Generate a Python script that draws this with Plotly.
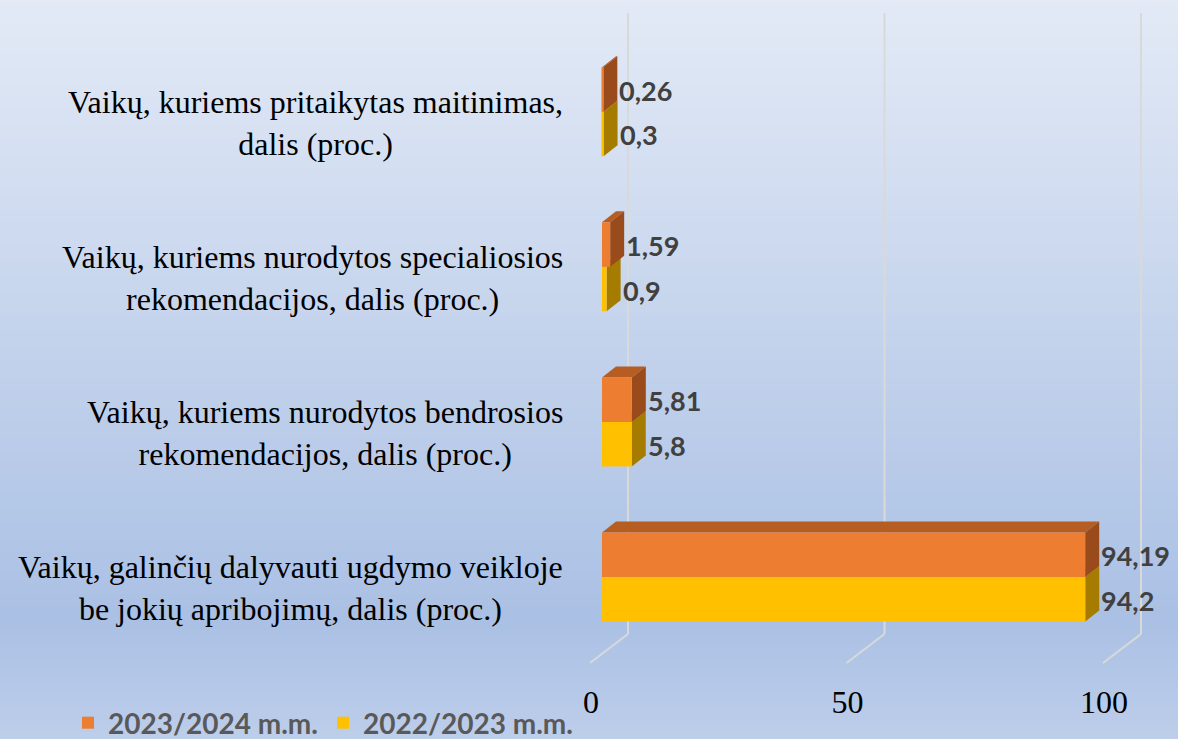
import plotly.graph_objects as go

# ---------------- data ----------------
categories = [
    "Vaikų, galinčių dalyvauti ugdymo veikloje<br>be jokių apribojimų, dalis (proc.)",
    "Vaikų, kuriems nurodytos bendrosios<br>rekomendacijos, dalis (proc.)",
    "Vaikų, kuriems nurodytos specialiosios<br>rekomendacijos, dalis (proc.)",
    "Vaikų, kuriems pritaikytas maitinimas,<br>dalis (proc.)",
]
series_names = ["2022/2023 m.m.", "2023/2024 m.m."]
values_2022 = [94.2, 5.8, 0.9, 0.3]
values_2023 = [94.19, 5.81, 1.59, 0.26]
x_ticks = [0, 50, 100]
x_tick_labels = ["0", "50", "100"]

# ---------------- styling / layout constants ----------------
FIG_W, FIG_H = 1178, 739
PX_ZERO = 602            # pixel of value 0 on front plane
PPU_X = 5.13             # pixels per value unit
X_RANGE = [-4, 106]
Y_TOP_PX, Y_BOT_PX = 34.2, 654.5
BARGAP = 0.426
DX, DY = 14, 11          # 3D depth of bars (px)
GRID_BACK_DX = 26        # back wall offset of gridlines (px)
GRID_FRONT_DX = -12
GRID_TOP_PX, GRID_BACK_PX, GRID_FRONT_PX = 13, 634, 663

front_colors = ["#FFC000", "#ED7D31"]
top_colors = ["#C99700", "#B65D23"]
side_colors = ["#A57C00", "#9A4B1B"]

x_dom = [(PX_ZERO + X_RANGE[0] * PPU_X) / FIG_W, (PX_ZERO + X_RANGE[1] * PPU_X) / FIG_W]
y_dom = [(FIG_H - Y_BOT_PX) / FIG_H, (FIG_H - Y_TOP_PX) / FIG_H]
ppu_y = (Y_BOT_PX - Y_TOP_PX) / len(categories)
bw = (1 - BARGAP) / 2


def py(px):
    return (FIG_H - px) / FIG_H


shapes = []

# background gradient
stops = [(0, (227, 234, 246)), (620, (170, 192, 228)), (739, (190, 206, 235))]
step = 6
for y0 in range(0, FIG_H, step):
    yc = y0 + step / 2
    col = stops[-1][1]
    for (a, ca), (b, cb) in zip(stops[:-1], stops[1:]):
        if a <= yc <= b:
            t = (yc - a) / (b - a)
            col = tuple(round(ca[k] + (cb[k] - ca[k]) * t) for k in range(3))
            break
    shapes.append(dict(type="rect", xref="paper", yref="paper", x0=0, x1=1,
                       y0=py(min(y0 + step, FIG_H)), y1=py(y0),
                       fillcolor="rgb(%d,%d,%d)" % col, line=dict(width=0), layer="below"))

# 3D gridlines
for v in x_ticks:
    shapes.append(dict(type="line", xref="x", xsizemode="pixel", xanchor=v,
                       x0=GRID_BACK_DX, x1=GRID_BACK_DX, yref="paper",
                       y0=py(GRID_BACK_PX), y1=py(GRID_TOP_PX),
                       line=dict(color="#D9D9D9", width=2), layer="below"))
    shapes.append(dict(type="line", xref="x", xsizemode="pixel", xanchor=v,
                       x0=GRID_FRONT_DX, x1=GRID_BACK_DX, yref="paper",
                       y0=py(GRID_FRONT_PX), y1=py(GRID_BACK_PX),
                       line=dict(color="#D9D9D9", width=2), layer="below"))

# 3D faces of bars
series_vals = [values_2022, values_2023]
hpx = bw * ppu_y
for ci in range(len(categories)):
    for si, vals in enumerate(series_vals):
        v = vals[ci]
        yb = ci - bw + si * bw
        yt = yb + bw
        wpx = v * PPU_X
        shapes.append(dict(type="path", xref="x", yref="y", xsizemode="pixel", ysizemode="pixel",
                           xanchor=0, yanchor=yt,
                           path=f"M0,0 L{DX},{DY} L{wpx + DX},{DY} L{wpx},0 Z",
                           fillcolor=top_colors[si], line=dict(width=0), layer="below"))
        shapes.append(dict(type="path", xref="x", yref="y", xsizemode="pixel", ysizemode="pixel",
                           xanchor=v, yanchor=yb,
                           path=f"M0,0 L0,{hpx} L{DX},{hpx + DY} L{DX},{DY} Z",
                           fillcolor=side_colors[si], line=dict(width=0), layer="below"))

fig = go.Figure()
for si, vals in enumerate(series_vals):
    fig.add_trace(go.Bar(
        y=categories, x=vals, orientation="h", name=series_names[si],
        marker=dict(color=front_colors[si], line=dict(width=0)),
    ))

annotations = []
# category labels
for ci, cat in enumerate(categories):
    annotations.append(dict(xref="paper", yref="y", x=565 / FIG_W, y=ci, xanchor="right",
                            yanchor="middle", align="center", text=cat, showarrow=False,
                            yshift=-11, font=dict(family="Liberation Serif", size=32, color="#000000")))
# data labels
for si, vals in enumerate(series_vals):
    for ci, v in enumerate(vals):
        yc = ci - bw / 2 + si * bw
        annotations.append(dict(xref="x", yref="y", x=v, y=yc, xanchor="left", yanchor="middle",
                                text=str(v).replace(".", ","), showarrow=False,
                                xshift=DX, yshift=-1,
                                font=dict(family="Lato", size=27, color="#404040", weight="bold")))

fig.update_layout(
    width=FIG_W, height=FIG_H, autosize=False,
    margin=dict(l=0, r=0, t=0, b=0, autoexpand=False),
    paper_bgcolor="#C8D6EE", plot_bgcolor="rgba(0,0,0,0)",
    barmode="group", bargap=BARGAP, bargroupgap=0,
    shapes=shapes, annotations=annotations,
    xaxis=dict(domain=x_dom, range=X_RANGE, tickvals=x_ticks, ticktext=x_tick_labels,
               showgrid=False, zeroline=False, showline=False, ticks="", automargin=False,
               ticklabelshift=-11, ticklabelstandoff=25,
               tickfont=dict(family="Liberation Serif", size=32, color="#000000")),
    yaxis=dict(domain=y_dom, type="category", range=[-0.5, len(categories) - 0.5], automargin=False,
               showticklabels=False, showgrid=False, zeroline=False, showline=False, ticks=""),
    legend=dict(orientation="h", traceorder="reversed", x=68 / FIG_W, xanchor="left",
                y=py(723), yanchor="middle", bgcolor="rgba(0,0,0,0)",
                font=dict(family="Lato", size=28, color="#595959", weight="bold")),
    showlegend=True,
)

fig.write_html("out.html", config={"displayModeBar": False},
               post_script="document.body.style.margin='0';")
